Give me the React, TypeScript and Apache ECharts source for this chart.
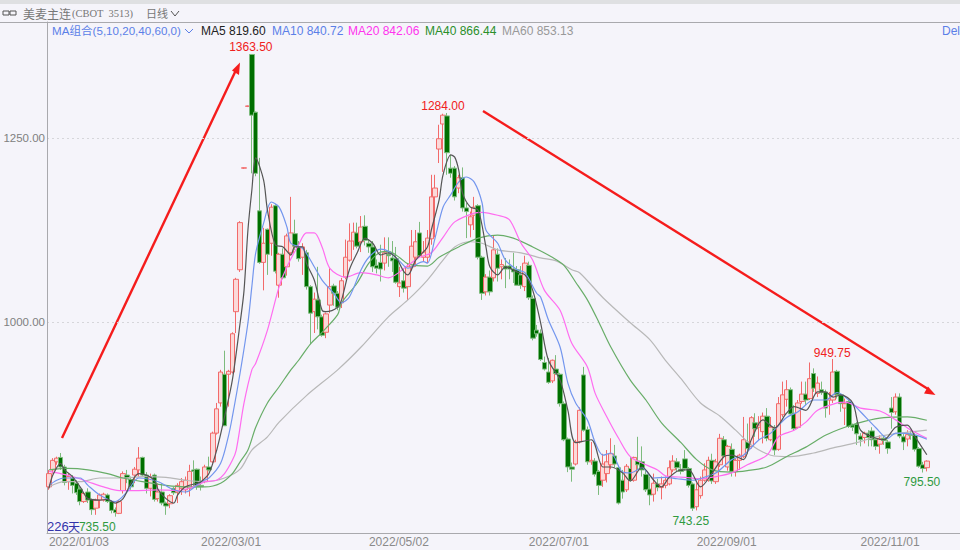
import React, { useEffect, useRef } from "react";
import * as echarts from "echarts";

const bandCount = 234;
const tickIndexes = [0, 39, 82, 123, 166, 208];
const tickLabels = ["2022/01/03", "2022/03/01", "2022/05/02", "2022/07/01", "2022/09/01", "2022/11/01"];
const lastTickIndex = 225;
const priceTicks = [1000, 1250];

// [open, close, low, high]
const candles: number[][] = [
  [776,794,772,799],[799,812,794,815],[810,815,806,817],[816,803,799,822],[803,782,778,806],
  [783,790,772,794],[788,778,767,792],[781,768,765,785],[773,756,751,778],[756,767,754,769],
  [769,758,754,774],[759,745,738,760],[747,758,738,760],[758,765,747,767],[758,766,756,768],
  [765,756,754,767],[756,744,740,758],[745,741,735.5,748],[740,756,739,758],[771,794,767,797],
  [792,788,781,799],[786,776,772,790],[792,800,781,803],[799,815,790,830],[816,792,790,817],
  [792,774,767,796],[774,790,763,794],[792,759,756,794],[760,769,756,781],[769,754,751,781],
  [754,750,738,756],[753,764,747,766],[774,768,765,776],[769,778,754,781],[774,783,765,788],
  [772,785,767,790],[774,797,763,806],[799,797,776,812],[800,776,772,801],[778,776,771,790],
  [783,803,781,806],[803,799,797,817],[810,849,808,851],[849,882,847,890],[890,932,885,935],
  [929,859,859,961],[929,933,885,935],[932,984,930,986],[1014,1058,985,1060],[1071,1135,1068,1137],
  [1209,1209.5,1208,1210],[1293,1293.5,1292,1294],[1363.5,1281,1202,1363.5],[1285,1202,1198,1286],[1151,1081,1079,1223],
  [1081,1107,1043,1128],[1126,1092,1064,1127],[1107,1156,1090,1160],[1158,1069,1066,1160],[1050,1092,1033,1094],
  [1092,1060,1058,1100],[1075,1117,1063,1120],[1094,1121,1090,1170],[1120,1103,1098,1139],[1102,1086,1082,1110],
  [1088,1102,1064,1107],[1094,1048,1044,1098],[1048,1012,970,1050],[1014,1031,985,1040],[1030,1007,990,1075],
  [1007,982,980,1010],[986,1011,978,1013],[1023,1048,1012,1073],[1049,1039,1022,1052],[1039,1020,1016,1042],
  [1026,1056,1019,1060],[1061,1088,1058,1112],[1084,1110,1082,1134],[1110,1122,1098,1135],[1121,1103,1100,1135],
  [1109,1129,1095,1144],[1130,1111,1104,1145],[1107,1102,1094,1112],[1102,1075,1068,1110],[1077,1073,1066,1085],
  [1081,1072,1055,1105],[1080,1094,1070,1115],[1092,1090,1075,1115],[1087,1083,1068,1110],[1086,1054,1052,1102],
  [1048,1053,1034,1075],[1056,1046,1040,1073],[1048,1075,1030,1080],[1075,1103,1070,1125],[1088,1109,1075,1125],
  [1121,1090,1088,1136],[1088,1095,1082,1110],[1088,1114,1080,1125],[1113,1170,1105,1200],[1170,1182,1115,1200],
  [1235,1249,1216,1268],[1269,1281,1204,1283],[1280,1230,1200,1284],[1209,1202,1196,1227],[1209,1170,1165,1212],
  [1182,1196,1175,1200],[1196,1155,1150,1210],[1155,1150,1114,1162],[1132,1143,1115,1150],[1145,1156,1125,1170],
  [1158,1088,1085,1160],[1088,1039,1030,1090],[1041,1061,1036,1065],[1061,1041,1036,1070],[1060,1098,1055,1118],
  [1092,1073,1055,1100],[1075,1078,1058,1085],[1076,1072,1046,1087],[1076,1072,1058,1085],[1072,1068,1053,1094],
  [1071,1050,1050,1076],[1064,1050,1045,1076],[1048,1080,1042,1090],[1077,1033,1030,1082],[1032,978,975,1036],
  [989,984,980,996],[985,949,947,990],[945,936,934,953],[932,918,916,951],[920,948,917,949],
  [936,930,928,955],[929,889,885,931],[889,840,838,892],[841,803,796,843],[803,800,783,809],
  [807,837,805,840],[837,880,835,884],[928,853,851,939],[854,810,806,858],[810,812,806,837],
  [811,793,790,815],[797,778,765,799],[785,807,776,821],[794,810,782,826],[806,821,800,842],
  [818,807,802,833],[802,754,752,805],[785,769,760,799],[772,804,769,807],[801,785,783,817],
  [785,816,783,817],[811,806,799,844],[810,799,790,831],[793,772,769,799],[773,765,751,790],
  [766,781,756,794],[780,775,770,787],[775,780,759,790],[778,785,774,790],[780,802,778,812],
  [799,811,796,819],[810,802,797,815],[800,797,793,807],[814,801,798,826],[801,778,775,803],
  [780,747,743.25,782],[749,772,744,781],[764,785,760,790],[785,799,783,808],[785,812,783,817],
  [812,784,780,821],[783,810,780,814],[806,842,803,848],[840,818,815,845],[803,831,798,833],
  [827,797,790,835],[797,812,790,815],[812,819,799,821],[817,840,815,871],[837,828,821,862],
  [831,870,828,872],[863,855,844,876],[857,860,840,872],[851,872,835,877],[872,842,838,883],
  [840,857,838,871],[855,826,819,860],[827,889,825,898],[874,901,871,919],[895,908,885,921],
  [908,875,874,911],[876,855,852,887],[857,890,855,894],[892,902,889,919],[902,894,887,919],
  [896,923,894,945],[930,910,905,937],[903,917,898,926],[908,904,901,919],[905,883,870,908],
  [894,896,874,905],[894,932,890,949.75],[933,901,896,935],[901,889,878,903],[883,889,860,896],
  [892,858,856,894],[860,857,852,862],[861,848,833,864],[845,840,831,849],[843,849,835,851],
  [849,843,831,853],[852,840,831,857],[840,831,826,842],[834,842,821,846],[842,839,833,846],
  [837,828,821,840],[883,877,855,898],[878,898,874,903],[898,845,842,903],[844,837,826,849],
  [841,847,831,853],[847,846,840,853],[846,827,824,849],[828,804,802,830],[806,801,795.5,810],
  [802,811,797,812],
];

const ma5: number[][] = [
  [0,774],[1,792],[3,808],[4,799],[6,790],[8,776],[10,760],[13,758],[15,759],[17,754],[19,760],[21,781],[23,794],[25,792],[27,785],[28,772],[30,760],[32,754],[33,765],[35,776],[38,781],[39,783],[41,794],[43,826],[45,871],[47,921],[49,999],[50,1043],[51,1125],[52,1179],[53,1223],[55,1193],[56,1152],[58,1105],[60,1102],[62,1091],[63,1102],[65,1102],[66,1080],[68,1057],[70,1016],[71,1014],[74,1020],[75,1030],[77,1071],[79,1094],[81,1114],[83,1107],[85,1091],[87,1094],[89,1087],[91,1068],[92,1064],[94,1084],[97,1102],[98,1125],[100,1166],[101,1200],[103,1227],[104,1224],[105,1207],[106,1175],[108,1156],[110,1152],[112,1102],[113,1075],[115,1064],[117,1075],[120,1068],[122,1064],[124,1043],[126,999],[128,948],[131,921],[133,880],[135,836],[139,840],[142,803],[144,803],[147,795],[149,784],[152,803],[155,785],[157,776],[159,789],[162,799],[164,799],[167,776],[170,795],[173,817],[175,819],[178,813],[180,840],[183,867],[186,856],[189,876],[191,885],[194,880],[197,905],[199,905],[201,898],[203,901],[206,890],[208,853],[212,842],[214,840],[217,857],[220,860],[222,844],[225,819.6],
];
const ma10: number[][] = [
  [0,778],[2,785],[4,788],[8,788],[10,778],[13,765],[17,756],[20,769],[23,788],[28,783],[32,772],[35,769],[39,783],[41,788],[44,808],[46,845],[47,871],[49,931],[51,999],[52,1048],[53,1094],[55,1134],[57,1163],[59,1156],[61,1129],[62,1107],[65,1100],[68,1075],[70,1057],[73,1039],[75,1026],[77,1034],[80,1071],[82,1088],[85,1099],[87,1096],[90,1082],[92,1073],[96,1082],[97,1080],[99,1115],[101,1156],[103,1173],[105,1190],[107,1197],[109,1190],[111,1162],[112,1125],[115,1107],[117,1084],[120,1071],[122,1067],[125,1039],[126,1034],[128,1003],[131,966],[133,917],[135,890],[138,867],[140,836],[142,819],[144,822],[147,796],[149,795],[152,802],[155,788],[158,789],[161,787],[165,785],[168,789],[171,795],[175,813],[178,819],[182,840],[185,849],[189,870],[192,878],[196,894],[199,894],[202,904],[205,894],[208,878],[212,856],[215,842],[217,849],[221,848],[225,840.72],
];
const ma20: number[][] = [
  [0,797],[3,794],[6,790],[10,783],[14,776],[18,771],[23,771],[28,772],[33,771],[37,776],[40,783],[43,785],[45,794],[47,812],[48,826],[50,890],[52,935],[53,944],[56,989],[59,1048],[61,1075],[64,1105],[66,1121],[68,1121],[70,1102],[72,1073],[76,1061],[80,1067],[84,1064],[87,1060],[92,1077],[95,1088],[98,1094],[101,1115],[104,1136],[109,1148],[111,1149],[115,1145],[118,1139],[121,1107],[124,1084],[127,1043],[131,1016],[134,971],[138,939],[140,903],[143,871],[146,842],[149,817],[153,806],[156,799],[158,791],[163,789],[167,787],[171,790],[175,795],[179,806],[184,819],[187,844],[191,853],[194,864],[197,880],[202,890],[204,891],[208,883],[213,879],[217,867],[221,853],[225,842.06],
];
const ma40: number[][] = [
  [0,799],[5,801],[10,799],[15,794],[19,788],[24,783],[30,778],[35,776],[40,776],[44,781],[47,794],[49,810],[51,826],[53,857],[56,890],[59,912],[62,935],[64,948],[67,970],[70,986],[74,1010],[75,1026],[79,1053],[82,1080],[85,1095],[87,1096],[90,1087],[92,1079],[97,1076],[100,1088],[105,1102],[110,1114],[115,1118],[119,1114],[124,1102],[129,1088],[132,1077],[135,1054],[138,1030],[141,999],[144,966],[149,921],[153,894],[157,863],[162,836],[166,813],[170,799],[175,796],[179,798],[184,803],[189,817],[194,830],[199,846],[204,857],[209,865],[214,870],[220,871],[225,866.44],
];
const ma60: number[][] = [
  [0,776],[4,783],[8,783],[13,788],[19,788],[24,790],[30,789],[35,785],[40,783],[45,788],[49,800],[52,826],[56,844],[59,864],[66,900],[74,935],[80,966],[87,1007],[92,1030],[97,1057],[101,1084],[104,1102],[108,1109],[111,1107],[115,1098],[121,1094],[126,1087],[130,1083],[134,1071],[136,1067],[142,1033],[149,999],[154,976],[158,948],[162,923],[167,890],[172,872],[176,853],[180,833],[185,819],[190,817],[196,822],[201,829],[207,836],[212,844],[218,849],[225,853.13],
];

const highLow: { idx: number; value: number; text: string; color: string; pos: string; dx: number; dy: number }[] = [
  { idx: 52, value: 1363.5, text: "1363.50", color: "#f02020", pos: "top", dx: -1, dy: 0 },
  { idx: 102, value: 1284, text: "1284.00", color: "#f02020", pos: "top", dx: -4, dy: 0 },
  { idx: 201, value: 949.75, text: "949.75", color: "#f02020", pos: "top", dx: -1, dy: 1 },
  { idx: 224, value: 795.5, text: "795.50", color: "#2f9a3f", pos: "bottom", dx: -1, dy: 2 },
  { idx: 165, value: 743.25, text: "743.25", color: "#2f9a3f", pos: "bottom", dx: -2, dy: 3 },
  { idx: 17, value: 735.5, text: "735.50", color: "#2f9a3f", pos: "bottom", dx: -18, dy: 3 },
];

const legendItems = [
  { text: "MA5 819.60", x: 201, color: "#222222" },
  { text: "MA10 840.72", x: 272, color: "#5b7fe8" },
  { text: "MA20 842.06", x: 348, color: "#ff33ee" },
  { text: "MA40 866.44", x: 425, color: "#2a8f2a" },
  { text: "MA60 853.13", x: 502, color: "#999999" },
];

const categories = Array.from({ length: bandCount }, (_, i) => {
  const k = tickIndexes.indexOf(i);
  return k >= 0 ? tickLabels[k] : "";
});

const uiFont = '"Liberation Sans", Arial, sans-serif';

function maSeries(name: string, data: number[][], color: string, width = 1.2) {
  return {
    name,
    type: "line",
    data,
    smooth: 0.3,
    symbol: "none",
    silent: true,
    z: 3,
    lineStyle: { color, width },
  };
}

export default function App() {
  const ref = useRef<HTMLDivElement | null>(null);
  useEffect(() => {
    if (!ref.current) return;
    const chart = echarts.init(ref.current, undefined, { renderer: "svg" });
    const txt = (text: string, x: number, y: number, fill: string, font = `12px ${uiFont}`) => ({
      type: "text",
      x,
      y,
      silent: true,
      style: { text, fill, font, textVerticalAlign: "middle" },
    });
    chart.setOption({
      animation: false,
      backgroundColor: "#f5f4fa",
      grid: { left: 47, top: 22, width: 914, height: 511, containLabel: false },
      xAxis: {
        type: "category",
        data: categories,
        boundaryGap: true,
        axisLine: { show: true, lineStyle: { color: "#a9a9ad", width: 1 } },
        axisTick: {
          show: true,
          inside: true,
          length: 9,
          interval: (index: number) => index === lastTickIndex,
          lineStyle: { color: "#a9a9ad" },
        },
        splitLine: { show: false },
        axisLabel: {
          show: true,
          interval: (_: number, value: string) => value !== "",
          align: "left",
          color: "#8a8a8a",
          fontFamily: uiFont,
          fontSize: 12,
          margin: 3,
          hideOverlap: false,
        },
      },
      yAxis: {
        type: "value",
        min: 713.3,
        max: 1407.6,
        axisLine: { show: true, lineStyle: { color: "#a9a9ad", width: 1 } },
        axisTick: { show: false, customValues: priceTicks },
        splitLine: { show: true, lineStyle: { color: "#d6d6da", type: [2, 3], width: 1 } },
        axisLabel: {
          customValues: priceTicks,
          formatter: (v: number) => v.toFixed(2),
          color: "#808080",
          fontFamily: uiFont,
          fontSize: 11.5,
          margin: 2,
        },
      },
      series: [
        {
          type: "candlestick",
          data: candles,
          barWidth: 5,
          silent: true,
          itemStyle: {
            color: "#fbd9d9",
            color0: "#006f00",
            borderColor: "#f26a6a",
            borderColor0: "#7dbb7d",
            borderWidth: 1,
          },
          markPoint: {
            symbol: "circle",
            symbolSize: 0,
            silent: true,
            animation: false,
            data: highLow.map((p) => ({
              coord: [p.idx, p.value],
              value: p.value,
              label: {
                show: true,
                formatter: p.text,
                position: p.pos,
                distance: 1,
                offset: [p.dx, p.dy],
                color: p.color,
                fontFamily: uiFont,
                fontSize: 12,
              },
            })),
          },
        },
        maSeries("MA60", ma60, "#b8b8b8"),
        maSeries("MA40", ma40, "#68ad68"),
        maSeries("MA20", ma20, "#ff6cf0"),
        maSeries("MA10", ma10, "#7396ee"),
        maSeries("MA5", ma5, "#555555"),
      ],
      graphic: [
        { type: "rect", silent: true, shape: { x: 0, y: 0, width: 960, height: 4 }, style: { fill: "#dfe0e2" } },
        { type: "line", silent: true, shape: { x1: 0, y1: 22.5, x2: 960, y2: 22.5 }, style: { stroke: "#a9a9ad", lineWidth: 1 } },
        { type: "rect", silent: true, shape: { x: 3, y: 11, width: 6, height: 4 }, style: { fill: "none", stroke: "#555", lineWidth: 1 } },
        { type: "rect", silent: true, shape: { x: 10, y: 11, width: 6, height: 4 }, style: { fill: "none", stroke: "#555", lineWidth: 1 } },
        txt("美麦主连", 23, 13, "#777777", '12px "Noto Sans CJK SC", sans-serif'),
        txt("(CBOT  3513)", 72, 13.5, "#777777", '10.5px "Liberation Serif", serif'),
        txt("日线", 146, 13, "#777777", '11px "Noto Sans CJK SC", sans-serif'),
        { type: "polyline", silent: true, shape: { points: [[171, 11], [175, 16], [179, 11]] }, style: { fill: "none", stroke: "#555", lineWidth: 1 } },
        txt("MA组合(5,10,20,40,60,0)", 52, 30.5, "#5b7fe8", `11.6px ${uiFont}, "Noto Sans CJK SC"`),
        { type: "polyline", silent: true, shape: { points: [[185, 29], [189, 33], [193, 29]] }, style: { fill: "none", stroke: "#5b7fe8", lineWidth: 1 } },
        ...legendItems.map((l) => txt(l.text, l.x, 30.5, l.color)),
        txt("Del", 942, 30.5, "#5b7fe8"),
        txt("226", 47, 526, "#3333aa", `13px ${uiFont}`),
        txt("天", 68, 526, "#3333aa", '12px "Noto Sans CJK SC", sans-serif'),
        { type: "line", silent: true, shape: { x1: 62, y1: 438, x2: 236, y2: 70 }, style: { stroke: "#f51c1c", lineWidth: 2.4 } },
        { type: "polygon", silent: true, shape: { points: [[240, 62.5], [232, 70.5], [239, 75]] }, style: { fill: "#f51c1c" } },
        { type: "line", silent: true, shape: { x1: 483, y1: 111, x2: 928, y2: 389 }, style: { stroke: "#f51c1c", lineWidth: 2.4 } },
        { type: "polygon", silent: true, shape: { points: [[935.5, 395], [928, 386.5], [924, 393.5]] }, style: { fill: "#f51c1c" } },
      ],
    });
    return () => chart.dispose();
  }, []);
  return <div ref={ref} style={{ position: "fixed", left: 0, top: 0, width: 960, height: 550 }} />;
}
